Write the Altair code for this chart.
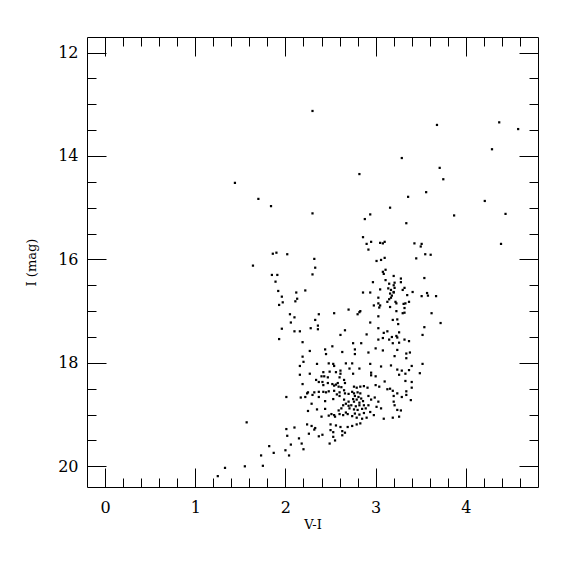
import altair as alt
import pandas as pd

# V-I colour and I magnitude, grouped by region of the CMD
vi_bright = [2.30, 1.44, 1.70, 1.84, 2.30, 3.68, 4.37, 4.58, 4.29, 3.29, 3.71, 2.82, 3.75, 3.56,
             3.36, 4.21, 3.16, 2.94, 2.88, 3.87, 4.44, 3.34, 2.86, 4.39]
i_bright = [13.13, 14.52, 14.83, 14.97, 15.11, 13.40, 13.35, 13.48, 13.87, 14.04, 14.23, 14.35, 14.45, 14.70,
            14.79, 14.87, 15.00, 15.13, 15.22, 15.15, 15.12, 15.30, 15.57, 15.70]

vi_rgb = [2.90, 2.95, 3.05, 3.08, 3.10, 3.43, 3.51, 3.50, 2.92, 3.55,
          3.61, 3.45, 3.10, 3.06, 3.01, 3.11, 3.08, 3.09, 3.20, 3.28,
          3.11, 3.54, 3.28, 2.97, 3.15, 3.21, 3.20, 3.21, 3.14, 3.32,
          3.05, 3.17, 3.20, 3.30, 3.41, 2.86, 2.94, 3.16, 3.20, 3.35,
          3.57, 3.51, 3.58, 3.67, 3.18, 3.17, 3.03, 3.15, 3.22, 3.31,
          3.33, 3.37, 3.13, 3.03, 3.23, 3.32, 3.05, 2.98, 3.04, 3.16,
          2.54, 2.70, 2.80, 2.82, 2.83, 3.23, 3.32, 3.30, 3.62, 3.03,
          3.19, 3.24, 2.94, 3.25, 3.72, 2.66, 3.03, 3.13, 3.09, 3.26,
          3.54, 2.61, 2.90, 3.08, 3.18, 3.23, 3.24, 3.52, 3.03, 3.15, 3.32]
i_rgb = [15.70, 15.66, 15.68, 15.69, 15.66, 15.69, 15.70, 15.75, 15.81, 15.90,
         15.91, 15.98, 15.97, 16.01, 16.03, 16.20, 16.24, 16.28, 16.32, 16.37,
         16.40, 16.36, 16.44, 16.44, 16.47, 16.45, 16.50, 16.55, 16.56, 16.55,
         16.58, 16.59, 16.63, 16.59, 16.63, 16.64, 16.64, 16.66, 16.64, 16.69,
         16.65, 16.71, 16.70, 16.71, 16.70, 16.74, 16.74, 16.77, 16.82, 16.86,
         16.85, 16.82, 16.82, 16.85, 16.85, 16.94, 16.89, 16.89, 16.93, 16.92,
         17.04, 16.97, 17.06, 17.02, 17.00, 17.00, 17.03, 17.04, 17.04, 17.10,
         17.17, 17.16, 17.22, 17.25, 17.23, 17.37, 17.33, 17.39, 17.42, 17.41,
         17.31, 17.46, 17.45, 17.52, 17.50, 17.48, 17.51, 17.46, 17.55, 17.55, 17.55]

vi_blue = [1.86, 1.90, 2.02, 1.64, 2.32, 2.33, 2.30, 1.85, 1.91, 1.89,
           1.92, 2.12, 2.22, 1.96, 2.13, 1.97, 2.11, 1.93, 2.37, 2.05,
           2.10, 2.33, 2.06, 2.36, 1.96, 2.28, 2.36, 2.10, 2.16, 1.93,
           2.16, 2.16, 2.01, 1.57, 2.01, 2.10, 2.02, 2.15, 2.06, 1.82,
           2.00, 1.87, 1.73, 2.04, 1.55, 1.75, 1.33, 1.25]
i_blue = [15.89, 15.87, 15.90, 16.12, 15.99, 16.16, 16.29, 16.30, 16.30, 16.43,
          16.61, 16.64, 16.60, 16.72, 16.76, 16.83, 16.81, 16.88, 17.06, 17.06,
          17.12, 17.17, 17.22, 17.28, 17.34, 17.33, 17.35, 17.39, 17.39, 17.54,
          18.06, 18.23, 18.66, 19.15, 19.28, 19.25, 19.41, 19.46, 19.58, 19.61,
          19.69, 19.74, 19.79, 19.79, 20.00, 19.99, 20.03, 20.19]

vi_clump_a = [2.19, 2.52, 2.27, 2.44, 2.45, 2.63, 2.19, 2.20, 2.35, 2.48,
              2.53, 2.54, 2.67, 2.71, 2.27, 2.61, 2.42, 2.49, 2.56, 2.61,
              2.60, 2.34, 2.40, 2.43, 2.47, 2.37, 2.41, 2.47, 2.58, 2.65,
              2.66, 2.42, 2.52, 2.54, 2.56, 2.59, 2.62, 2.19, 2.25, 2.24,
              2.32, 2.30, 2.37, 2.42, 2.45, 2.48, 2.54, 2.57, 2.60, 2.65,
              2.66, 2.60, 2.70, 2.17, 2.22, 2.37, 2.44, 2.53, 2.65, 2.67,
              2.70, 2.64, 2.62, 2.59, 2.60, 2.64, 2.67, 2.69, 2.25, 2.35,
              2.44, 2.29, 2.48, 2.51, 2.54, 2.55, 2.40, 2.70, 2.71]
i_clump_a = [17.60, 17.68, 17.77, 17.74, 17.83, 17.79, 17.88, 17.98, 18.02, 18.01,
             18.02, 18.06, 18.01, 18.11, 18.21, 18.15, 18.18, 18.17, 18.18, 18.21,
             18.28, 18.33, 18.26, 18.26, 18.28, 18.37, 18.37, 18.39, 18.39, 18.33,
             18.39, 18.43, 18.41, 18.44, 18.42, 18.46, 18.47, 18.41, 18.57, 18.59,
             18.57, 18.62, 18.56, 18.56, 18.57, 18.55, 18.54, 18.61, 18.57, 18.53,
             18.59, 18.64, 18.60, 18.67, 18.66, 18.66, 18.74, 18.70, 18.71, 18.79,
             18.75, 18.82, 18.88, 18.92, 18.99, 19.01, 18.96, 18.99, 18.93, 18.90,
             18.89, 18.79, 19.02, 18.99, 19.01, 19.04, 19.04, 18.83, 18.88]

vi_clump_b = [2.75, 2.84, 3.00, 3.19, 3.26, 2.77, 2.77, 2.92, 3.08,
              3.24, 3.21, 2.74, 2.82, 2.94, 3.06, 3.17, 3.24, 2.75, 2.95,
              3.00, 3.10, 3.26, 2.95, 2.76, 2.79, 2.83, 2.87, 2.91, 3.00,
              3.04, 3.13, 3.16, 3.19, 3.24, 3.20, 2.74, 2.76, 2.80, 2.83,
              2.77, 2.81, 2.75, 2.79, 2.84, 2.76, 2.82, 2.86, 2.73, 2.78,
              2.82, 2.87, 2.76, 2.80, 2.85, 2.89, 2.77, 2.82, 2.87, 2.74,
              2.79, 2.85, 2.90, 2.92, 2.95, 2.99, 3.03, 3.01, 3.06, 2.94,
              2.98, 2.92, 3.20, 3.21, 3.24, 3.19, 3.26, 3.09]
i_clump_b = [17.62, 17.62, 17.72, 17.62, 17.61, 17.74, 17.83, 17.80, 17.76,
             17.75, 17.87, 18.01, 18.11, 18.02, 18.07, 18.05, 18.13, 18.21, 18.19,
             18.26, 18.36, 18.23, 18.24, 18.46, 18.48, 18.46, 18.45, 18.48, 18.43,
             18.46, 18.51, 18.50, 18.54, 18.59, 18.64, 18.56, 18.59, 18.57, 18.59,
             18.64, 18.66, 18.70, 18.71, 18.69, 18.75, 18.77, 18.74, 18.82, 18.84,
             18.82, 18.82, 18.90, 18.91, 18.89, 18.88, 18.98, 19.00, 18.97, 19.03,
             19.06, 19.08, 19.06, 18.64, 18.71, 18.67, 18.75, 18.85, 18.88, 18.95,
             19.01, 18.82, 18.75, 18.82, 18.91, 19.06, 19.04, 19.08]

vi_red = [3.37, 3.34, 3.38, 3.34, 3.52, 3.40, 3.29, 3.37, 3.33, 3.49,
          3.33, 3.40, 3.40, 3.34, 3.34, 3.29, 3.39, 3.28]
i_red = [17.58, 17.82, 17.80, 17.91, 18.02, 18.06, 18.15, 18.14, 18.21, 18.20,
         18.35, 18.37, 18.48, 18.55, 18.62, 18.66, 18.72, 18.92]

vi_faint = [2.24, 2.29, 2.33, 2.32, 2.26, 2.41, 2.37, 2.50, 2.56, 2.50,
            2.53, 2.53, 2.61, 2.63, 2.66, 2.63, 2.69, 2.74, 2.79, 2.49,
            2.55, 2.18, 2.20, 2.83]
i_faint = [19.19, 19.22, 19.26, 19.29, 19.37, 19.39, 19.42, 19.19, 19.21, 19.30,
           19.34, 19.43, 19.24, 19.32, 19.35, 19.40, 19.24, 19.22, 19.19, 19.56,
           19.50, 19.56, 19.67, 19.17]

x_major = [0, 1, 2, 3, 4]
x_minor = [0.2, 0.4, 0.6, 0.8, 1.2, 1.4, 1.6, 1.8, 2.2, 2.4, 2.6, 2.8,
           3.2, 3.4, 3.6, 3.8, 4.2, 4.4, 4.6]
y_major = [12, 14, 16, 18, 20]
y_minor = [12.5, 13, 13.5, 14.5, 15, 15.5, 16.5, 17, 17.5, 18.5, 19, 19.5]

vi = vi_bright + vi_rgb + vi_blue + vi_clump_a + vi_clump_b + vi_red + vi_faint
imag = i_bright + i_rgb + i_blue + i_clump_a + i_clump_b + i_red + i_faint
df = pd.DataFrame({"vi": vi, "imag": imag})

FONT = "DejaVu Serif"
xscale = alt.Scale(domain=[-0.2, 4.8], nice=False, zero=False)
yscale = alt.Scale(domain=[11.7, 20.4], nice=False, zero=False, reverse=True)


def axis(orient, values, size, labels=False, title="", **kw):
    return alt.Axis(orient=orient, values=values, tickSize=size, offset=-size,
                    labels=labels, title=title, domain=False, grid=False,
                    tickColor="black", tickWidth=1, **kw)


base = alt.Chart(df)

pts = base.mark_square(size=5, color="black", opacity=1).encode(
    x=alt.X("vi:Q", scale=xscale,
            axis=axis("bottom", x_major, 19, labels=True, title="V-I",
                      labelPadding=12, titlePadding=3)),
    y=alt.Y("imag:Q", scale=yscale,
            axis=axis("left", y_major, 19, labels=True, title="I (mag)",
                      labelPadding=9, titlePadding=19)),
)

minor_lb = base.mark_square(opacity=0).encode(
    x=alt.X("vi:Q", scale=xscale, axis=axis("bottom", x_minor, 9)),
    y=alt.Y("imag:Q", scale=yscale, axis=axis("left", y_minor, 9)),
)

major_tr = base.mark_square(opacity=0).encode(
    x=alt.X("vi:Q", scale=xscale, axis=axis("top", x_major, 19)),
    y=alt.Y("imag:Q", scale=yscale, axis=axis("right", y_major, 19)),
)

minor_tr = base.mark_square(opacity=0).encode(
    x=alt.X("vi:Q", scale=xscale, axis=axis("top", x_minor, 9)),
    y=alt.Y("imag:Q", scale=yscale, axis=axis("right", y_minor, 9)),
)

chart = (
    alt.layer(pts, minor_lb, major_tr, minor_tr)
    .resolve_axis(x="independent", y="independent")
    .properties(width=451, height=450,
                autosize=alt.AutoSizeParams(type="none"),
                padding={"left": 79, "top": 29, "right": 29, "bottom": 80})
    .configure_view(stroke="black", strokeWidth=1)
    .configure_axis(labelFont=FONT, titleFont=FONT, labelFontSize=16,
                    titleFontSize=13, titleFontWeight="normal",
                    labelColor="black", titleColor="black")
)

chart.save("out.html", embed_options={"renderer": "svg", "actions": False})
